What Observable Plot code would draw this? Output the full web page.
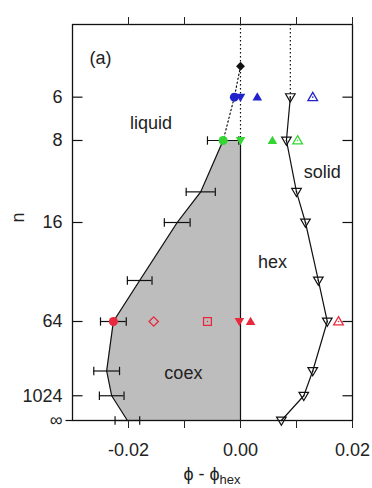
<!DOCTYPE html>
<html><head><meta charset="utf-8">
<script src="https://cdn.jsdelivr.net/npm/d3@7"></script>
<script src="https://cdn.jsdelivr.net/npm/@observablehq/plot@0.6"></script>
<style>body{margin:0;background:#fff}</style>
</head><body><div id="chart"></div>
<script>
// ---- axis ticks / labels ----
const yTickN = [6, 8, 16, 64, 1024, Infinity];
const yTickLabels = ["6", "8", "16", "64", "1024", "∞"];
const xTickValues = [-0.02, -0.01, 0, 0.01, 0.02];
const xTickLabels = ["-0.02", "", "0.00", "", "0.02"];

// ---- coexistence (liquid-side) boundary with error bars ----
const coexN   = [8, 12, 16, 32, 64, 256, 1024, Infinity];
const coexPhi = [-0.0031, -0.0071, -0.0113, -0.0180, -0.0227, -0.0239, -0.0230, -0.0202];
const coexErr = [0.0028, 0.0026, 0.0023, 0.0022, 0.0023, 0.0023, 0.0022, 0.0022];

// ---- liquid boundary (dotted) ----
const liqN   = [5, 6, 8];
const liqPhi = [0, -0.0011, -0.0031];

// ---- solid boundary (open down triangles) ----
const solidN   = [6, 8, 12, 16, 32, 64, 256, 1024, Infinity];
const solidPhi = [0.0089, 0.0082, 0.0100, 0.0116, 0.0139, 0.0155, 0.0129, 0.0113, 0.0073];

// ---- individual markers ----
const topN = [5];            const topPhi = [0];                       // filled diamond
const circN = [6, 8, 64];    const circPhi = [-0.0011, -0.0031, -0.0227]; // filled circles
const downN = [6, 8, 64];    const downPhi = [0, 0, -0.0002];          // filled down triangles
const upN = [6, 8, 64];      const upPhi = [0.0030, 0.0057, 0.0018];   // filled up triangles
const upOpenN = [6, 8, 64];  const upOpenPhi = [0.0129, 0.0102, 0.0175]; // open up triangles
const diaN = [64];           const diaPhi = [-0.0155];                 // open diamond
const sqN = [64];            const sqPhi = [-0.0059];                  // open square

// ---- region labels ----
const regionLabels = ["(a)", "liquid", "solid", "hex", "coex"];

// styles
const colorOf = {5: "#111111", 6: "#2222cc", 8: "#33d633", 64: "#e8283c"};
const inv = n => n === Infinity ? 0 : 1 / Math.sqrt(n);
const rows = (ns, phis, extra) => ns.map((n, i) => ({n, v: inv(n), phi: phis[i], color: colorOf[n] || "#111", ...(extra ? {err: extra[i]} : {})}));

const coex = rows(coexN, coexPhi, coexErr);
const liq = rows(liqN, liqPhi);
const solid = rows(solidN, solidPhi);

const vbar = {draw(c){ c.moveTo(0,-4.2); c.lineTo(0,4.2); }};
const triUp = {draw(c){ c.moveTo(0,-4.8); c.lineTo(4.8,3.4); c.lineTo(-4.8,3.4); c.closePath(); }};
const triDown = {draw(c){ c.moveTo(0,4.8); c.lineTo(4.8,-3.4); c.lineTo(-4.8,-3.4); c.closePath(); }};
const tickR = {draw(c){ c.moveTo(0,0); c.lineTo(10,0); }};
const tickL = {draw(c){ c.moveTo(0,0); c.lineTo(-10,0); }};
const tickOut = {draw(c){ c.moveTo(0,0); c.lineTo(-7,0); }};

const yLab = new Map(yTickN.map((n, i) => [inv(n), yTickLabels[i]]));
const xLab = new Map(xTickValues.map((x, i) => [x, xTickLabels[i]]));
const F = "'Liberation Sans', Arial, sans-serif";
const ink = "#111";
const dots = "1.4,2.6";

const labelPos = [
  {x: -0.0250, v: 0.458}, {x: -0.0160, v: 0.375}, {x: 0.0146, v: 0.314},
  {x: 0.0057, v: 0.1995}, {x: -0.0102, v: 0.0593}
];

const plot = Plot.plot({
  width: 372, height: 488,
  marginTop: 24, marginRight: 20, marginBottom: 68, marginLeft: 72,
  style: {fontFamily: F, fontSize: "18px", color: "#222", background: "white", overflow: "visible"},
  x: {domain: [-0.03, 0.02]},
  y: {domain: [0, 0.5]},
  color: {type: "identity"},
  marks: [
    Plot.areaX(coex, {y: "v", x1: "phi", x2: () => 0, fill: "#bdbdbd"}),
    // hex boundary x=0
    Plot.ruleX([0], {y1: 0.5, y2: inv(8), stroke: ink, strokeDasharray: dots, strokeWidth: 1.2}),
    Plot.ruleX([0], {y1: inv(8), y2: 0, stroke: ink, strokeWidth: 1.2}),
    // solid boundary dotted extension
    Plot.ruleX([solidPhi[0]], {y1: 0.5, y2: inv(6), stroke: ink, strokeDasharray: dots, strokeWidth: 1.2}),
    // liquid boundary dotted
    Plot.line(liq, {x: "phi", y: "v", stroke: ink, strokeDasharray: dots, strokeWidth: 1.2}),
    // coexistence boundary
    Plot.line(coex, {x: "phi", y: "v", stroke: ink, strokeWidth: 1.2}),
    // solid boundary
    Plot.line(solid, {x: "phi", y: "v", stroke: ink, strokeWidth: 1.2}),
    // error bars
    Plot.ruleY(coex, {y: "v", x1: d => d.phi - d.err, x2: d => d.phi + d.err, stroke: ink, strokeWidth: 1.2}),
    Plot.dot(coex, {y: "v", x: d => d.phi - d.err, symbol: vbar, stroke: ink, strokeWidth: 1.2}),
    Plot.dot(coex, {y: "v", x: d => d.phi + d.err, symbol: vbar, stroke: ink, strokeWidth: 1.2}),
    // solid boundary open down triangles
    Plot.dot(solid, {x: "phi", y: "v", symbol: triDown, stroke: ink, fill: "none", strokeWidth: 1.2}),
    Plot.dot(solid, {x: "phi", y: "v", r: 0.8, fill: ink}),
    // markers
    Plot.dot(rows(topN, topPhi), {x: "phi", y: "v", symbol: "diamond2", r: 4, fill: "color"}),
    Plot.dot(rows(circN, circPhi), {x: "phi", y: "v", symbol: "circle", r: 4.5, fill: "color"}),
    Plot.dot(rows(downN, downPhi), {x: "phi", y: "v", symbol: triDown, fill: "color"}),
    Plot.dot(rows(upN, upPhi), {x: "phi", y: "v", symbol: triUp, fill: "color"}),
    Plot.dot(rows(upOpenN, upOpenPhi), {x: "phi", y: "v", symbol: triUp, stroke: "color", fill: "none", strokeWidth: 1.3}),
    Plot.dot(rows(upOpenN, upOpenPhi), {x: "phi", y: "v", r: 0.8, fill: "color"}),
    Plot.dot(rows(diaN, diaPhi), {x: "phi", y: "v", symbol: "diamond2", r: 4.2, stroke: "color", fill: "none", strokeWidth: 1.3}),
    Plot.dot(rows(sqN, sqPhi), {x: "phi", y: "v", symbol: "square2", r: 5, stroke: "color", fill: "none", strokeWidth: 1.3}),
    Plot.dot(rows(sqN, sqPhi), {x: "phi", y: "v", r: 0.8, fill: "color"}),
    // frame and ticks
    Plot.frame({stroke: ink, strokeWidth: 1.3}),
    Plot.dot(yTickN.slice(0, 5), {x: () => -0.03, y: inv, symbol: tickR, stroke: ink, strokeWidth: 1.2}),
    Plot.dot(yTickN.slice(0, 5), {x: () => 0.02, y: inv, symbol: tickL, stroke: ink, strokeWidth: 1.2}),
    Plot.dot(yTickN.slice(5), {x: () => -0.03, y: inv, symbol: tickOut, stroke: ink, strokeWidth: 1.2}),
    Plot.axisY({anchor: "left", ticks: yTickN.map(inv), tickFormat: d => yLab.get(d), tickSize: 0, tickPadding: 10, label: null}),
    Plot.axisX({anchor: "top", ticks: xTickValues, tickSize: 8, tickFormat: () => "", label: null}),
    Plot.axisX({anchor: "bottom", ticks: xTickValues, tickSize: 8, tickPadding: 15, tickFormat: d => xLab.get(d), label: null}),
    // region labels
    Plot.text(regionLabels, {x: (d, i) => labelPos[i].x, y: (d, i) => labelPos[i].v, text: d => d, fill: "#222", fontSize: 18}),
    // y label
    Plot.text(["n"], {frameAnchor: "left", text: d => d, rotate: -90, dx: -54, fill: "#222", fontSize: 18})
  ]
});

document.getElementById("chart").appendChild(plot);
const svg = d3.select(plot.tagName.toLowerCase() === "svg" ? plot : plot.querySelector("svg"));
const t = svg.append("text").attr("x", 212).attr("y", 480).attr("text-anchor", "middle")
  .attr("font-size", 18).attr("fill", "#222").attr("font-family", F);
t.append("tspan").text("ϕ - ϕ");
t.append("tspan").attr("font-size", 13).attr("dy", 4).text("hex");
</script>
</body></html>
